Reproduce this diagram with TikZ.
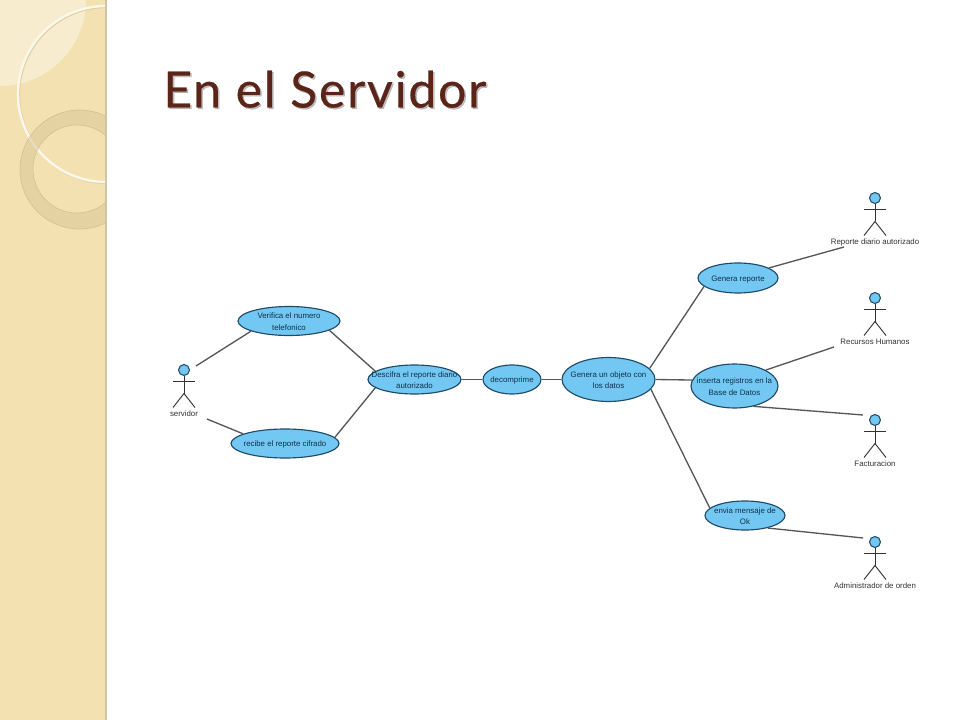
\documentclass[tikz,border=0pt]{standalone}
\usepackage{fontspec}
\setmainfont{Liberation Sans}
\newfontfamily\titlefont[LetterSpace=3.5,FakeBold=0.35]{Lato}
\usetikzlibrary{shapes.geometric,patterns}
\definecolor{panel}{HTML}{F3E0AF}
\definecolor{paneldot}{HTML}{F8EBC9}
\definecolor{panelrule}{HTML}{CFC4A4}
\definecolor{ucfill}{HTML}{72C8F2}
\definecolor{ucline}{HTML}{1F4A68}
\definecolor{uctext}{HTML}{10304A}
\definecolor{connline}{HTML}{55585A}
\definecolor{titlecol}{HTML}{5B2418}
\definecolor{ringcol}{HTML}{D8C594}
\tikzset{
  x=0.75pt,y=-0.75pt,
  usecase/.style={ellipse,draw=ucline,fill=ucfill,line width=0.85pt,inner sep=0pt,text=uctext,font=\fontsize{5.9}{8.2}\selectfont},
  conn/.style={draw=connline,line width=1pt},
  actorline/.style={draw=black!80,line width=0.7pt},
  actorhead/.style={circle,draw=ucline,fill=ucfill,line width=0.8pt,inner sep=0pt,minimum size=8.2pt},
  actorlabel/.style={text=black!80,font=\fontsize{5.9}{7}\selectfont,inner sep=0pt},
  titletext/.style={font=\titlefont\fontsize{37.5}{40}\selectfont,anchor=base west,inner sep=0pt},
}
% text that does not widen its ellipse
\newcommand{\uctxt}[1]{\raisebox{-0.8em}{\smash{\makebox[0pt]{\begin{tabular}{@{}c@{}}#1\end{tabular}}}}}
\renewcommand{\arraystretch}{1.03}
\newcommand{\actorfig}[4]{% name, x, head centre y, label
  \node[actorhead] (#1) at (#2,#3) {};
  \draw[actorline] (#1.south) -- ++(0,17.5);
  \draw[actorline] (#2-11,#3+11) -- (#2+11,#3+11);
  \draw[actorline] (#2-11,#3+37.5) -- (#2,#3+23.5) -- (#2+11,#3+37.5);
  \node[actorlabel] (#1label) at (#2,#3+44) {#4};
}
\begin{document}
\begin{tikzpicture}
\useasboundingbox (0,0) rectangle (960,720);
\fill[white] (0,0) rectangle (960,720);
% side panel
\fill[panel] (0,0) rectangle (105,720);
\fill[pattern=crosshatch dots,pattern color=paneldot] (0,0) rectangle (105,720);
\fill[white,opacity=0.38] (0,0) -- (86,0) arc[start angle=0,end angle=90,radius=86] -- cycle;
\begin{scope}
\clip (0,0) rectangle (105,720);
\draw[ringcol,opacity=0.7,line width=1.6pt] (107,95) circle[radius=88];
\draw[white!75!panel,line width=1.8pt] (106,94) circle[radius=88];
\fill[ringcol,opacity=0.5,even odd rule] (79.5,169.5) circle[radius=59.5] (77,169) circle[radius=44];
\draw[ringcol!85!black,opacity=0.45,line width=0.5pt] (79.5,169.5) circle[radius=59.5] (77,169) circle[radius=44];
\end{scope}
\fill[panelrule] (105,0) rectangle (107,720);
% title
\node[titletext,text=black,opacity=0.25] (titleshadow) at (164.5,109) {En el Servidor};
\node[titletext,text=titlecol] (title) at (163,107.5) {En el Servidor};
% use cases
\node[usecase,minimum width=76.5pt,minimum height=21.75pt] (v) at (289,321) {\uctxt{Verifica el numero\\telefonico}};
\node[usecase,minimum width=81pt,minimum height=21.75pt] (r) at (285,443.5) {\uctxt{recibe el reporte cifrado}};
\node[usecase,minimum width=69.75pt,minimum height=21.75pt] (d) at (414.5,379.5) {\uctxt{Descifra el reporte diario\\autorizado}};
\node[usecase,minimum width=43.5pt,minimum height=21.75pt] (dec) at (512,379.5) {\uctxt{decomprime}};
\node[usecase,minimum width=69.75pt,minimum height=33pt] (g) at (608.5,379.5) {\uctxt{Genera un objeto con\\los datos}};
\node[usecase,minimum width=60pt,minimum height=22.5pt] (gr) at (738,278) {\uctxt{Genera reporte}};
\node[usecase,minimum width=65.25pt,minimum height=33pt] (ins) at (734.5,386) {\uctxt{inserta registros en la\\Base de Datos}};
\node[usecase,minimum width=60pt,minimum height=21.75pt] (env) at (745,515.5) {\uctxt{envia mensaje de\\Ok}};
% actors
\actorfig{aserv}{184}{370}{servidor}
\actorfig{arep}{875}{198}{Reporte diario autorizado}
\actorfig{arh}{875}{298}{Recursos Humanos}
\actorfig{afac}{875}{420}{Facturacion}
\actorfig{aadm}{875}{542}{Administrador de orden}
% free ends beside the actors
\coordinate (s1) at (196,366);
\coordinate (s2) at (207,419);
\coordinate (e1) at (844,247);
\coordinate (e2) at (834,347);
\coordinate (e3) at (863,415);
\coordinate (e4) at (863,538);
% connectors
\draw[conn] (s1) -- (v.195);
\draw[conn] (s2) -- (r.167);
\draw[conn] (v.347) -- (d.168.6);
\draw[conn] (r.7.4) -- (d.192.5);
\draw[conn] (d.east) -- (dec.west);
\draw[conn] (dec.east) -- (g.west);
\draw[conn] (g.15.9) -- (gr.194.8);
\draw[conn] (g.east) -- (ins.172.3);
\draw[conn] (g.-13.6) -- (env.168);
\draw[conn] (gr.18.4) -- (e1);
\draw[conn] (ins.27) -- (e2);
\draw[conn] (ins.-47.2) -- (e3);
\draw[conn] (env.-29.6) -- (e4);
\end{tikzpicture}
\end{document}
